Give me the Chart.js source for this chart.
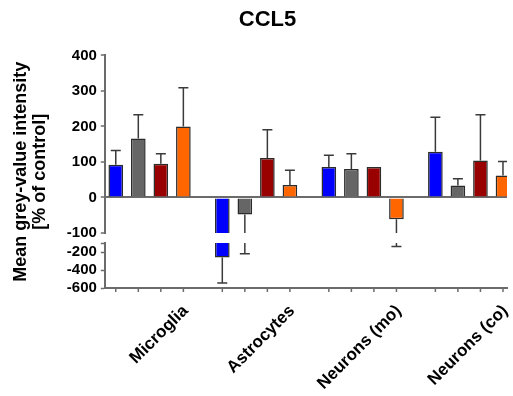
<!DOCTYPE html>
<html>
<head>
<meta charset="utf-8">
<script src="https://cdn.jsdelivr.net/npm/chart.js@4.4.1/dist/chart.umd.min.js"></script>
<style>
  html, body { margin: 0; padding: 0; background: #fff; }
  #wrap { width: 513px; height: 396px; }
</style>
</head>
<body>
<div id="wrap"><canvas id="chart"></canvas></div>
<script>
// Data (% of control)
const cell_types = ['Microglia', 'Astrocytes', 'Neurons (mo)', 'Neurons (co)'];
const series_names = ['Group 1', 'Group 2', 'Group 3', 'Group 4'];
const means_blue = [92, -260, 86, 129];
const sd_blue = [40, 285, 33, 97];
const means_grey = [166, -48, 80, 34];
const sd_grey = [67, 172, 43, 19];
const means_red = [95, 111, 86, 104];
const sd_red = [28, 80, 0, 129];
const means_orange = [200, 35, -61, 62];
const sd_orange = [109, 42, 77, 39];
const upper_ticks = [400, 300, 200, 100, 0, -100];
const lower_ticks = [-100, -200, -400, -600];

// Colors / fonts
const colors = ['#0000ff', '#666666', '#990000', '#ff6600'];
const axis_color = '#6b6b6b';
const font_family = "Arial, 'Liberation Sans', sans-serif";

const series = [
    { name: series_names[0], means: means_blue, sd: sd_blue, color: colors[0] },
    { name: series_names[1], means: means_grey, sd: sd_grey, color: colors[1] },
    { name: series_names[2], means: means_red, sd: sd_red, color: colors[2] },
    { name: series_names[3], means: means_orange, sd: sd_orange, color: colors[3] },
];

// every series is drawn twice: once on the upper part of the broken axis, once on the lower part
const datasets = [];
['y_top', 'y_bottom'].forEach(axis_id => {
    series.forEach(s => {
        datasets.push({
            label: s.name,
            data: s.means.map((v, i) => ({ x: i, y: v })),
            sd: s.sd,
            yAxisID: axis_id,
            stack: s.name,
            backgroundColor: s.color,
            borderColor: '#2b2b2b',
            borderWidth: 1.5,
            clip: 0,
            categoryPercentage: 0.846,
            barPercentage: 0.65,
        });
    });
});

// Error bars + x tick marks at every bar
const error_bars = {
    id: 'error_bars',
    afterLayout(chart) {
        // title sits a little right of the canvas centre in the original
        if (chart.titleBlock) chart.titleBlock.left += 18;
    },
    afterDatasetsDraw(chart) {
        const ctx = chart.ctx;
        const area = chart.chartArea;
        ['y_top', 'y_bottom'].forEach(axis_id => {
            const y_scale = chart.scales[axis_id];
            const top = axis_id === 'y_top' ? 0 : y_scale.top;
            ctx.save();
            ctx.beginPath();
            ctx.rect(area.left, top, area.right - area.left, y_scale.bottom - top);
            ctx.clip();
            ctx.strokeStyle = '#3a3a3a';
            ctx.lineWidth = 1.5;
            chart.data.datasets.forEach((ds, di) => {
                if (ds.yAxisID !== 'y_top') return;
                const meta = chart.getDatasetMeta(di);
                meta.data.forEach((bar, j) => {
                    const v = ds.data[j].y;
                    const sd = ds.sd[j];
                    if (!sd) return;
                    const end = v + Math.sign(v) * sd;
                    const y0 = y_scale.getPixelForValue(v);
                    const y1 = y_scale.getPixelForValue(end);
                    ctx.beginPath();
                    ctx.moveTo(bar.x, y0);
                    ctx.lineTo(bar.x, y1);
                    ctx.moveTo(bar.x - 5, y1);
                    ctx.lineTo(bar.x + 5, y1);
                    ctx.stroke();
                });
            });
            ctx.restore();
        });
        // x tick marks under each bar
        ctx.save();
        ctx.strokeStyle = axis_color;
        ctx.lineWidth = 1.5;
        chart.data.datasets.forEach((ds, di) => {
            if (ds.yAxisID !== 'y_top') return;
            chart.getDatasetMeta(di).data.forEach(bar => {
                ctx.beginPath();
                ctx.moveTo(bar.x, area.bottom);
                ctx.lineTo(bar.x, area.bottom + 4);
                ctx.stroke();
            });
        });
        ctx.restore();
    }
};

const tick_font = { family: font_family, size: 15, weight: 'bold' };

const chart = new Chart(document.getElementById('chart'), {
    type: 'bar',
    data: { datasets: datasets },
    plugins: [error_bars],
    options: {
        animation: false,
        responsive: true,
        maintainAspectRatio: false,
        layout: { padding: { left: 10, right: 6, top: 0, bottom: 0 } },
        plugins: {
            legend: { display: false },
            tooltip: { enabled: false },
            title: {
                display: true,
                text: 'CCL5',
                color: '#000',
                font: { family: font_family, size: 22, weight: 'bold' },
                padding: { top: 7, bottom: 22 },
            },
        },
        scales: {
            x: {
                type: 'linear',
                min: -0.42,
                max: 3.355,
                offset: false,
                afterBuildTicks: s => { s.ticks = cell_types.map((c, i) => ({ value: i })); },
                afterFit: s => { s.height = 108; },
                ticks: {
                    callback: v => cell_types[v],
                    minRotation: 45,
                    maxRotation: 45,
                    autoSkip: false,
                    labelOffset: 36,
                    padding: 5,
                    color: '#000',
                    font: { family: font_family, size: 17, weight: 'bold' },
                },
                grid: { display: false, offset: false },
                border: { color: axis_color, width: 2 },
            },
            y_title: {
                type: 'linear',
                position: 'left',
                weight: 30,
                ticks: { display: false },
                grid: { display: false },
                border: { display: false },
                title: {
                    display: true,
                    text: ['Mean grey-value intensity', '[% of control]'],
                    color: '#000',
                    font: { family: font_family, size: 18, weight: 'bold', lineHeight: 1.05 },
                    padding: { top: 2, bottom: 5 },
                },
            },
            y_top: {
                type: 'linear',
                position: 'left',
                stack: 'y',
                stackWeight: 177.6,
                weight: 20,
                stacked: false,
                min: -100,
                max: 400,
                afterBuildTicks: s => { s.ticks = upper_ticks.map(v => ({ value: v })); },
                ticks: { color: '#000', font: tick_font, padding: 4, autoSkip: false },
                grid: {
                    color: c => (c.tick && c.tick.value === 0 ? axis_color : 'rgba(0,0,0,0)'),
                    tickColor: axis_color,
                    tickLength: 4,
                    lineWidth: 2,
                    tickWidth: 1.5,
                },
                border: { color: axis_color, width: 2 },
            },
            y_gap: {
                type: 'linear',
                position: 'left',
                stack: 'y',
                stackWeight: 10,
                weight: 10,
                min: 0,
                max: 1,
                ticks: { display: false },
                grid: { display: false },
                border: { display: false },
            },
            y_bottom: {
                type: 'linear',
                position: 'left',
                stack: 'y',
                stackWeight: 45,
                weight: 0,
                stacked: false,
                min: -600,
                max: -100,
                afterBuildTicks: s => { s.ticks = lower_ticks.map(v => ({ value: v })); },
                ticks: {
                    color: '#000',
                    font: tick_font,
                    padding: 4,
                    autoSkip: false,
                    callback: v => (v === -100 ? '' : v),
                },
                grid: { drawOnChartArea: false, tickColor: axis_color, tickLength: 4, tickWidth: 1.5 },
                border: { color: axis_color, width: 2 },
            },
        },
    },
});
</script>
</body>
</html>
